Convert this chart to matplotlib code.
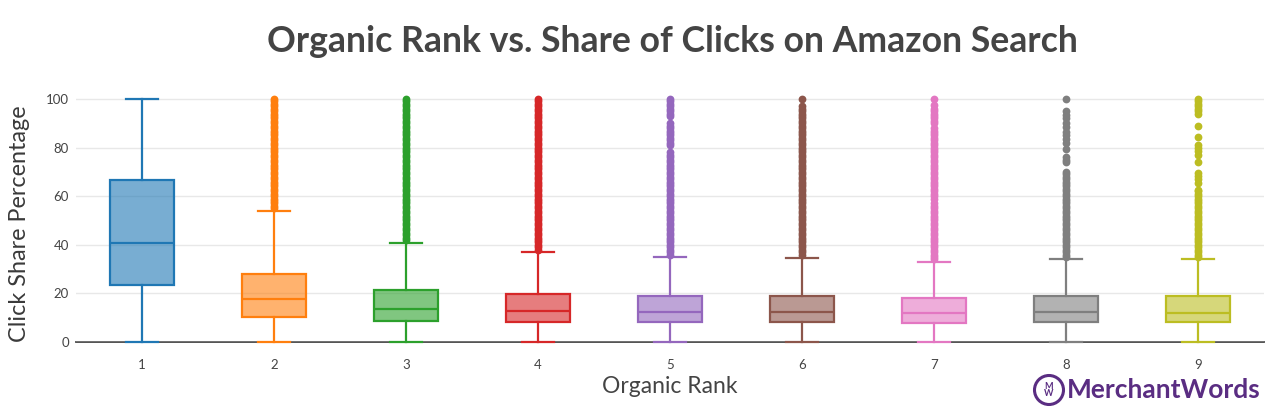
import numpy as np
import matplotlib.pyplot as plt
from matplotlib.patches import Circle
from matplotlib.colors import to_rgb

ranks = [1, 2, 3, 4, 5, 6, 7, 8, 9]
colors = ['#1f77b4', '#ff7f0e', '#2ca02c', '#d62728', '#9467bd',
          '#8c564b', '#e377c2', '#7f7f7f', '#bcbd22']

# box stats
whislo = [0, 0, 0, 0, 0, 0, 0, 0, 0]
q1 = [23.5, 10.3, 8.6, 8.2, 8.2, 8.2, 7.8, 8.2, 8.2]
med = [40.7, 17.7, 13.6, 12.8, 12.3, 12.5, 11.9, 12.3, 12.0]
q3 = [66.7, 28.0, 21.4, 19.8, 18.9, 18.9, 18.1, 18.9, 18.9]
whishi = [100, 54.0, 40.7, 37.0, 35.0, 34.6, 32.9, 34.2, 34.2]

# outliers
out1 = []
out2 = [55, 56, 57, 58, 59, 60, 61, 62, 63, 64, 65, 66, 67, 68, 69, 70, 71, 72,
        73, 74, 75, 76, 77, 78, 79, 80, 81, 82, 83, 84, 85, 86, 87, 88, 89, 90,
        91, 92, 93, 94, 95, 96, 97, 98, 99, 100]
out3 = [42, 43, 44, 45, 46, 47, 48, 49, 50, 51, 52, 53, 54, 55, 56, 57, 58, 59,
        60, 61, 62, 63, 64, 65, 66, 67, 68, 69, 70, 71, 72, 73, 74, 75, 76, 77,
        78, 79, 80, 81, 82, 83, 84, 85, 86, 87, 88, 89, 90, 91, 92, 93, 94, 95,
        96, 97, 98, 99, 100]
out4 = [38, 39, 40, 41, 42, 43, 44, 45, 46, 47, 48, 49, 50, 51, 52, 53, 54, 55,
        56, 57, 58, 59, 60, 61, 62, 63, 64, 65, 66, 67, 68, 69, 70, 71, 72, 73,
        74, 75, 76, 77, 78, 79, 80, 81, 82, 83, 84, 85, 86, 87, 88, 89, 90, 91,
        92, 93, 94, 95, 96, 97, 98, 99, 100]
out5 = [36, 37, 38, 39, 40, 41, 42, 43, 44, 45, 46, 47, 48, 49, 50, 51, 52, 53,
        54, 55, 56, 57, 58, 59, 60, 61, 62, 63, 64, 65, 66, 67, 68, 69, 70, 71,
        72, 73, 74, 75, 76, 77, 78, 81, 82, 83, 84, 85, 86, 87, 88, 89, 90,
        93, 94, 95, 96, 97, 98, 99, 100]
out6 = [36, 37, 38, 39, 40, 41, 42, 43, 44, 45, 46, 47, 48, 49, 50, 51, 52, 53,
        54, 55, 56, 57, 58, 59, 60, 61, 62, 63, 64, 65, 66, 67, 68, 69, 70, 71,
        72, 73, 74, 75, 76, 77, 78, 79, 80, 81, 82, 83, 84, 85, 86, 87, 88, 89,
        90, 91, 92, 93, 94, 95, 96, 97, 100]
out7 = [34, 35, 36, 37, 38, 39, 40, 41, 42, 43, 44, 45, 46, 47, 48, 49, 50, 51,
        52, 53, 54, 55, 56, 57, 59, 60, 61, 62, 63, 64, 65, 66, 67, 68, 69, 70,
        71, 72, 73, 74, 75, 76, 77, 78, 79, 80, 81, 82, 83, 84, 85, 86, 87, 88,
        90, 91, 92, 93, 94, 95, 96, 97.5, 100]
out8 = [35, 36, 37, 38, 39, 40, 41, 42, 43, 44, 45, 46, 47, 48, 49, 50, 51, 52,
        53, 54, 55, 56, 57, 58, 59, 60, 61, 62, 63, 64, 65, 66, 67, 68, 69, 70,
        74, 75, 76, 79.5, 82, 83.5, 85, 86.5, 88.5, 90, 92, 93.5, 95, 100]
out9 = [35, 36, 37, 38, 39, 40, 41, 42, 43, 44, 45, 46, 47, 48, 49, 50, 51, 52,
        53, 54, 55, 56, 57, 58, 59, 60, 61, 62, 62.5, 65.5, 67, 68.5, 69.5, 74,
        77, 78.5, 80, 81, 84.5, 89, 94, 95, 96, 97, 98, 99, 100]
outliers = [out1, out2, out3, out4, out5, out6, out7, out8, out9]

plt.rcParams['font.family'] = ['Lato', 'DejaVu Sans']
fig = plt.figure(figsize=(12.84, 4.2), dpi=100)
ax = fig.add_axes([76/1284, 78/420, 1188/1284, 252/420])

for i in range(len(ranks)):
    c = colors[i]
    r, g, b = to_rgb(c)
    st = dict(med=med[i], q1=q1[i], q3=q3[i], whislo=whislo[i],
              whishi=whishi[i], fliers=outliers[i], label=str(ranks[i]))
    ax.bxp([st], positions=[ranks[i]], widths=0.49, capwidths=0.235,
           patch_artist=True, manage_ticks=False,
           boxprops=dict(facecolor=(r, g, b, 0.6), edgecolor=c, linewidth=1.6),
           medianprops=dict(color=c, linewidth=1.6),
           whiskerprops=dict(color=c, linewidth=1.6),
           capprops=dict(color=c, linewidth=1.6),
           flierprops=dict(marker='o', markerfacecolor=c, markeredgecolor='none',
                           markersize=5.6))

ax.set_xlim(0.5, 9.5)
ax.set_ylim(0, 103.7)
for a in ax.get_children():
    try:
        a.set_clip_on(False)
    except Exception:
        pass
ax.set_xticks(ranks)
ax.set_xticklabels([str(r) for r in ranks])
ax.set_yticks([0, 20, 40, 60, 80, 100])
ax.tick_params(length=0, labelsize=9.5, labelcolor='#444444', pad=12)
ax.tick_params(axis='y', pad=5)
ax.grid(axis='y', color='#e8e8e8', linewidth=1)
ax.set_axisbelow(True)
for s in ['top', 'right', 'left']:
    ax.spines[s].set_visible(False)
ax.spines['bottom'].set_color('#444444')
ax.spines['bottom'].set_linewidth(1.3)
ax.spines['bottom'].set_zorder(0.5)

ax.set_xlabel('Organic Rank', fontsize=16.5, color='#444444', labelpad=4)
fig.text(20/1284, 1 - 224/420, 'Click Share Percentage', rotation=90,
         fontsize=16.8, color='#3a3a3a', ha='center', va='center')
fig.text(672/1284, 1 - 42/420, 'Organic Rank vs. Share of Clicks on Amazon Search',
         fontsize=25.7, fontweight='bold', color='#444444', ha='center', va='center')

# logo
purple = '#5a2d82'
fig.patches.append(Circle((10.49, 0.30), 0.145, transform=fig.dpi_scale_trans,
                          fill=False, edgecolor=purple, linewidth=2.2))
fig.text(1049/1284, 1 - 390/420, 'M\nW', fontsize=6.5, fontweight='bold', color=purple,
         ha='center', va='center', linespacing=0.85)
fig.text(1067/1284, 1 - 390/420, 'MerchantWords', fontsize=19, fontweight='bold',
         color=purple, ha='left', va='center')

fig.savefig('out.png', dpi=100, facecolor='white')
